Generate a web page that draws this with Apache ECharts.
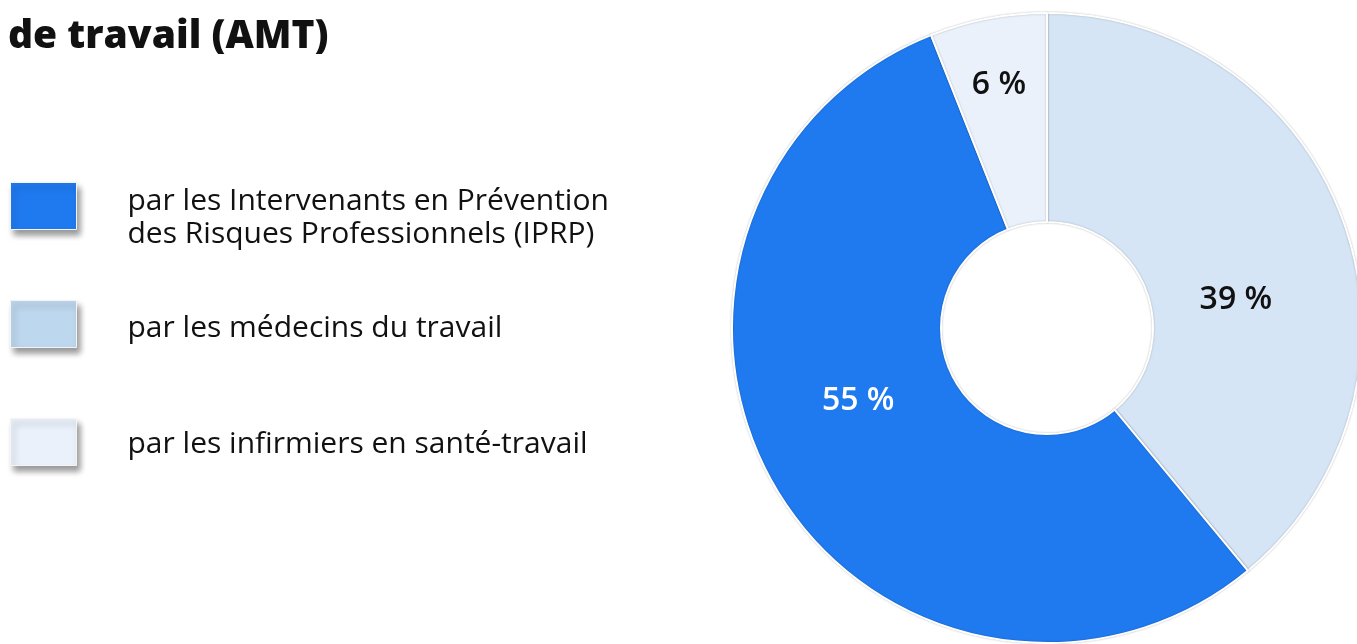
<!DOCTYPE html>
<html>
<head>
<meta charset="utf-8">
<script src="https://cdn.jsdelivr.net/npm/echarts@6/dist/echarts.min.js"></script>
<style>
    html, body { margin: 0; padding: 0; background: #fff; }
    #chart { width: 1357px; height: 644px; }
</style>
</head>
<body>
<div id="chart"></div>
<script>
    // Categories (legend labels)
    const categories = [
        'par les médecins du travail',
        'par les Intervenants en Prévention\ndes Risques Professionnels (IPRP)',
        'par les infirmiers en santé-travail'
    ];
    // Shares in percent, clockwise from the top
    const values = [39, 55, 6];
    // Legend order as in the picture
    const legendOrder = [1, 0, 2];

    // Colours
    const sliceColors = ['#D6E5F5', '#1F7AF0', '#EAF1FA'];
    const swatchColors = ['#BDD7EE', '#1F7AF0', '#EAF1FA'];
    const labelColors = ['#111', '#fff', '#111'];

    // Nudges for the slice labels (from their default 'inside' spot)
    const labelOffsets = [[-12, 44], [-5, -36], [-8, -33]];
    // Legend layout: top of each block and a spacer pushing the text down a bit
    const legendTops = [161, 300, 418];
    const legendSpacer = [24, 8, 5];

    const chart = echarts.init(document.getElementById('chart'));

    const legends = legendOrder.map((idx, i) => ({
        data: [{
            name: categories[idx],
            itemStyle: { color: swatchColors[idx] }
        }],
        formatter: name => '{s| }\n' + name,
        orient: 'vertical',
        left: 10,
        top: legendTops[i],
        padding: 0,
        icon: 'rect',
        itemWidth: 66,
        itemHeight: 47,
        selectedMode: false,
        itemStyle: {
            borderColor: '#f4f4f4',
            borderWidth: 1,
            shadowColor: 'rgba(0,0,0,0.4)',
            shadowBlur: 6,
            shadowOffsetX: 3,
            shadowOffsetY: 5
        },
        textStyle: {
            fontFamily: 'Open Sans',
            fontSize: 30,
            lineHeight: 33,
            color: '#111',
            padding: [0, 0, 0, 46],
            rich: {
                s: { fontSize: 1, lineHeight: legendSpacer[i] }
            }
        }
    }));

    const option = {
        animation: false,
        title: {
            text: 'de travail (AMT)',
            left: 8,
            top: 17,
            padding: 0,
            textStyle: {
                fontFamily: 'Open Sans',
                fontWeight: 800,
                fontSize: 39,
                color: '#111'
            }
        },
        legend: legends,
        series: [{
            type: 'pie',
            center: [1047, 328],
            radius: [106, 315],
            startAngle: 90,
            clockwise: true,
            avoidLabelOverlap: false,
            itemStyle: {
                borderColor: '#fff',
                borderWidth: 2,
                shadowColor: 'rgba(0,0,0,0.25)',
                shadowBlur: 2
            },
            label: {
                position: 'inside',
                fontFamily: 'Open Sans',
                fontWeight: 600,
                fontSize: 32,
                formatter: p => p.value + ' %'
            },
            labelLine: { show: false },
            emphasis: { disabled: true },
            data: values.map((v, i) => ({
                name: categories[i],
                value: v,
                itemStyle: { color: sliceColors[i] },
                label: { color: labelColors[i], offset: labelOffsets[i] }
            }))
        }]
    };

    chart.setOption(option);
</script>
</body>
</html>
